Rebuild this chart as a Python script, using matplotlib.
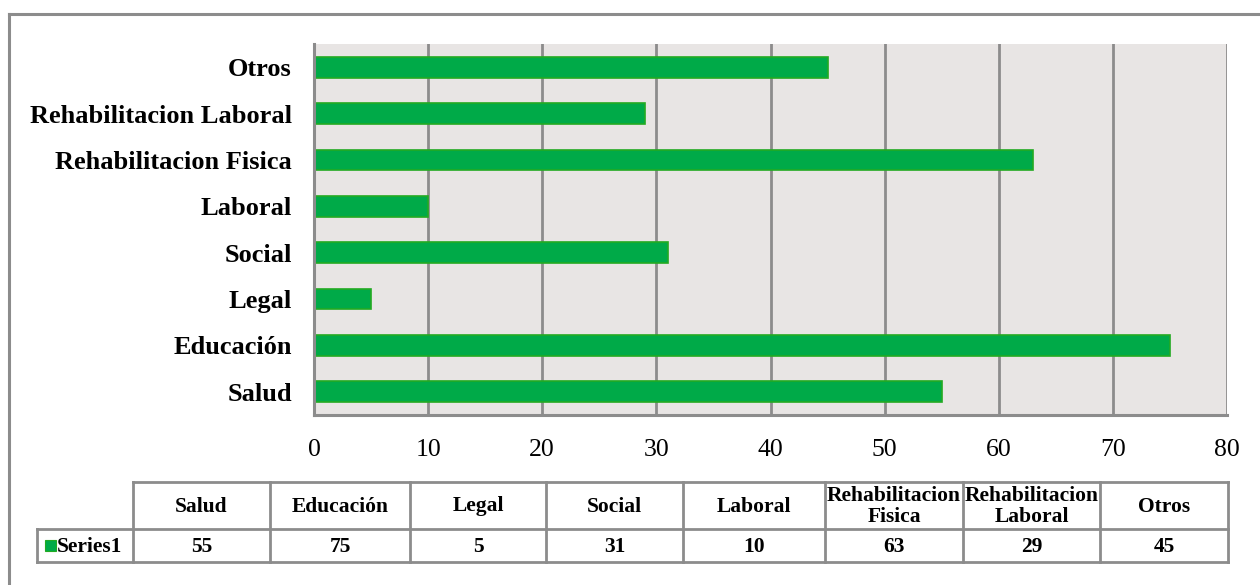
import matplotlib
matplotlib.use("Agg")
import matplotlib.pyplot as plt
from matplotlib.lines import Line2D
from matplotlib.patches import Rectangle

categories = ["Salud", "Educación", "Legal", "Social", "Laboral",
              "Rehabilitacion Fisica", "Rehabilitacion Laboral", "Otros"]
table_headers = ["Salud", "Educación", "Legal", "Social", "Laboral",
                 "Rehabilitacion\nFisica", "Rehabilitacion\nLaboral", "Otros"]
values = [55, 75, 5, 31, 10, 63, 29, 45]
series_name = "Series1"
xticks = [0, 10, 20, 30, 40, 50, 60, 70, 80]

W, H = 1260, 585
GRAY = "#8C8C8C"
FILL = "#00AA48"
EDGE = "#22AA22"
BG = "#E8E5E4"
SERIF = ["Liberation Serif", "DejaVu Serif"]

fig = plt.figure(figsize=(W / 100, H / 100), dpi=100)

def fx(px):
    return px / W

def fy(py):
    return 1 - py / H

# outer frame (left and top edges visible)
fig.add_artist(Line2D([fx(9), fx(9)], [fy(14), fy(H + 5)], color=GRAY, lw=2.2,
                      transform=fig.transFigure))
fig.add_artist(Line2D([fx(9), fx(W + 5)], [fy(14), fy(14)], color=GRAY, lw=2.2,
                      transform=fig.transFigure))

ax = fig.add_axes([fx(314), fy(415), fx(1227) - fx(314), fy(44) - fy(415)])
ax.set_facecolor(BG)
ypos = list(range(len(categories)))
ax.barh(ypos, values, height=0.45, color=FILL, edgecolor=EDGE, linewidth=1.2, zorder=3)
ax.set_xlim(0, 80)
ax.set_ylim(-0.5, len(categories) - 0.5)
ax.set_xticks(xticks)
ax.set_xticklabels([str(t) for t in xticks], fontsize=18.5, family=SERIF)
ax.set_yticks(ypos)
ax.set_yticklabels(categories, fontsize=19, family=SERIF, fontweight="bold")
ax.tick_params(axis="both", length=0)
ax.tick_params(axis="x", pad=17)
ax.tick_params(axis="y", pad=16)
for x in xticks[1:]:
    ax.axvline(x, color=GRAY, lw=2, zorder=1)
for s in ["top", "right"]:
    ax.spines[s].set_visible(False)
for s in ["left", "bottom"]:
    ax.spines[s].set_color(GRAY)
    ax.spines[s].set_linewidth(2.2)
    ax.spines[s].set_zorder(4)

# data table
col_edges = [133, 270, 410, 546, 683, 825, 963, 1100, 1228]
row_top, row_mid, row_bot = 482, 529, 562
tleft = 37
lw = 2
def hline(x0, x1, y):
    fig.add_artist(Line2D([fx(x0), fx(x1)], [fy(y), fy(y)], color=GRAY, lw=lw,
                          transform=fig.transFigure))
def vline(x, y0, y1):
    fig.add_artist(Line2D([fx(x), fx(x)], [fy(y0), fy(y1)], color=GRAY, lw=lw,
                          transform=fig.transFigure))

hline(col_edges[0], col_edges[-1], row_top)
hline(tleft, col_edges[-1], row_mid)
hline(tleft, col_edges[-1], row_bot)
vline(tleft, row_mid, row_bot)
for x in col_edges:
    vline(x, row_top, row_bot)

for i, (hdr, v) in enumerate(zip(table_headers, values)):
    cx = (col_edges[i] + col_edges[i + 1]) / 2
    fig.text(fx(cx), fy((row_top + row_mid) / 2 + 1), hdr, ha="center", va="center",
             fontsize=15.5, family=SERIF, fontweight="bold", linespacing=1.05)
    fig.text(fx(cx), fy((row_mid + row_bot) / 2 + 1), str(v), ha="center", va="center",
             fontsize=15.5, family=SERIF, fontweight="bold")

fig.add_artist(Rectangle((fx(45), fy(551)), fx(56) - fx(45), fy(540) - fy(551),
                         facecolor=FILL, edgecolor=EDGE, lw=0.8, transform=fig.transFigure))
fig.text(fx(57), fy((row_mid + row_bot) / 2 + 1), series_name, ha="left", va="center",
         fontsize=15.5, family=SERIF, fontweight="bold")

fig.savefig("out.png", dpi=100)
